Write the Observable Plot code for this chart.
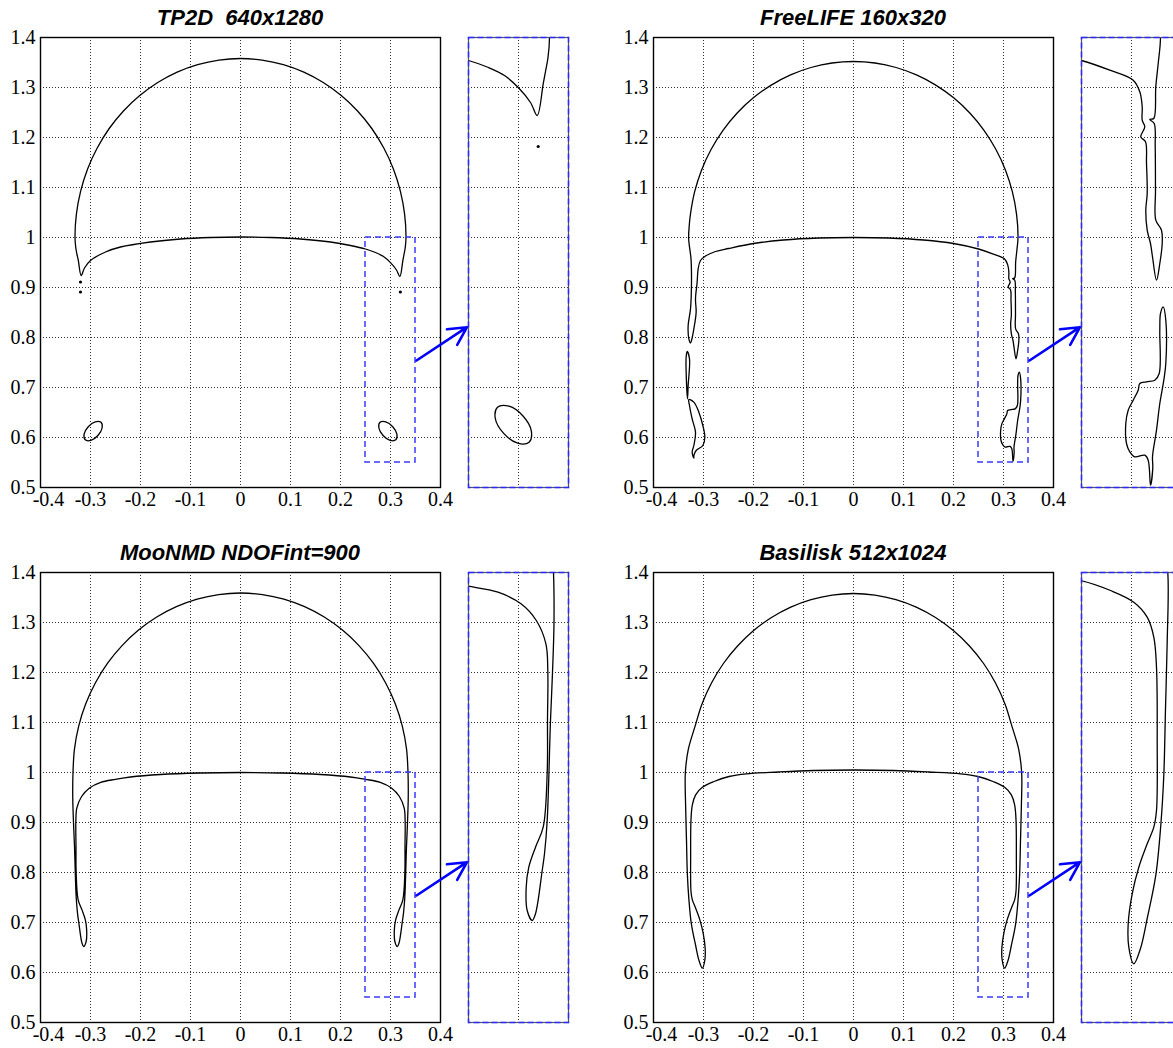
<!DOCTYPE html>
<html>
<head>
<meta charset="utf-8">
<script src="https://cdn.jsdelivr.net/npm/d3@7"></script>
<script src="https://cdn.jsdelivr.net/npm/@observablehq/plot@0.6"></script>
<style>
  html, body { margin: 0; padding: 0; background: #fff; }
  #root { position: relative; width: 1173px; height: 1048px; overflow: hidden; background: #fff; }
  .ttl { position: absolute; width: 400px; text-align: center; white-space: pre;
         font-family: "Liberation Sans", Arial, sans-serif; font-weight: bold; font-style: italic;
         font-size: 22px; line-height: 22px; color: #000; }
  .box { position: absolute; }
  #root svg text { font-family: "Liberation Serif", "Times New Roman", serif !important;
                   font-size: 20px !important; fill: #000; }
</style>
</head>
<body>
<div id="root"></div>
<script>
// ---------- ticks, labels ----------
const titles = ["TP2D  640x1280", "FreeLIFE 160x320", "MooNMD NDOFint=900", "Basilisk 512x1024"];
const xTicks = [-0.4, -0.3, -0.2, -0.1, 0, 0.1, 0.2, 0.3, 0.4];
const xTickLabels = ["-0.4", "-0.3", "-0.2", "-0.1", "0", "0.1", "0.2", "0.3", "0.4"];
const yTicks = [0.5, 0.6, 0.7, 0.8, 0.9, 1.0, 1.1, 1.2, 1.3, 1.4];
const yTickLabels = ["0.5", "0.6", "0.7", "0.8", "0.9", "1", "1.1", "1.2", "1.3", "1.4"];
const insetXTicks = [0.3];
const insetYTicks = [0.6, 0.65, 0.7, 0.75, 0.8, 0.85, 0.9, 0.95];
const zoomBox = [{x1: 0.25, x2: 0.35, y1: 0.55, y2: 1.0}];
const arrowLink = [{x1: 0.352, y1: 0.754, x2: 0.453, y2: 0.8206}];

// ---------- TP2D 640x1280 ----------
const tp2dBubble = [
  [0,1.358],[0.0432,1.3549],[0.0857,1.3458],[0.1267,1.3308],[0.1655,1.31],[0.2015,1.284],[0.2341,1.2531],
  [0.2626,1.218],[0.2866,1.179],[0.3058,1.137],[0.3197,1.0927],[0.3282,1.0467],[0.331,1.0],
  [0.3295,0.98],[0.327,0.966],[0.3247,0.9537],[0.3187,0.922],
  [0.312,0.935],[0.3,0.9497],[0.286,0.962],[0.27,0.970],[0.25,0.977],[0.22,0.984],[0.18,0.991],
  [0.12,0.997],[0.06,1.0],[0,1.001],
  [-0.06,1.0],[-0.12,0.997],[-0.18,0.991],[-0.24,0.981],[-0.27,0.971],[-0.3,0.954],[-0.312,0.939],[-0.3187,0.924],
  [-0.3245,0.955],[-0.327,0.966],[-0.3295,0.98],
  [-0.331,1.0],[-0.3282,1.0467],[-0.3197,1.0927],[-0.3058,1.137],[-0.2866,1.179],[-0.2626,1.218],
  [-0.2341,1.2531],[-0.2015,1.284],[-0.1655,1.31],[-0.1267,1.3308],[-0.0857,1.3458],[-0.0432,1.3549]
];
const tp2dDropRight = [
  [0.2790,0.6303],[0.2905,0.6313],[0.3045,0.6215],[0.3128,0.6066],
  [0.3106,0.5953],[0.2992,0.5943],[0.2852,0.6041],[0.2768,0.6190]
];
const tp2dDropLeft = [
  [-0.2790,0.6303],[-0.2905,0.6313],[-0.3045,0.6215],[-0.3128,0.6066],
  [-0.3106,0.5953],[-0.2992,0.5943],[-0.2852,0.6041],[-0.2768,0.6190]
];
const tp2dDots = [[-0.32,0.911],[-0.32,0.891],[0.3197,0.891]];

// ---------- FreeLIFE 160x320 ----------
const freelifeBubble = [
  [0,1.352],[0.0429,1.349],[0.0852,1.34],[0.1259,1.3252],[0.1645,1.3048],[0.2003,1.2793],[0.2326,1.2489],
  [0.261,1.2143],[0.2849,1.176],[0.304,1.1347],[0.3178,1.0911],[0.3262,1.0459],[0.329,1.0],
  [0.3267,0.974],[0.3243,0.951],[0.3223,0.919],[0.3183,0.918],[0.3227,0.914],[0.3237,0.891],
  [0.324,0.847],[0.3243,0.8173],[0.33,0.8073],[0.3307,0.794],[0.3283,0.774],[0.325,0.7573],
  [0.321,0.7807],[0.319,0.794],[0.3157,0.8073],[0.3143,0.8273],[0.3157,0.844],[0.315,0.874],
  [0.314,0.8957],[0.3093,0.9007],[0.3133,0.9107],[0.3107,0.9173],[0.3107,0.9307],[0.3083,0.9457],
  [0.3017,0.9573],[0.2783,0.9673],[0.25,0.977],[0.2,0.988],[0.14,0.995],[0.07,0.999],[0,1.0],
  [-0.07,0.999],[-0.14,0.995],[-0.2,0.988],[-0.25,0.978],[-0.276,0.972],[-0.296,0.963],[-0.306,0.954],
  [-0.3107,0.9373],[-0.3127,0.9107],[-0.316,0.8773],[-0.3147,0.8507],[-0.3193,0.8173],[-0.324,0.794],
  [-0.326,0.789],
  [-0.3293,0.7973],[-0.3307,0.824],[-0.326,0.8573],[-0.324,0.9107],[-0.325,0.9573],[-0.3297,0.9973],
  [-0.3285,1.024],[-0.3262,1.0459],[-0.3178,1.0911],[-0.304,1.1347],[-0.2849,1.176],[-0.261,1.2143],
  [-0.2326,1.2489],[-0.2003,1.2793],[-0.1645,1.3048],[-0.1259,1.3252],[-0.0852,1.34],[-0.0429,1.349]
];
const freelifeSliverLeft = [
  [-0.3327,0.772],[-0.328,0.7573],[-0.3307,0.704],[-0.332,0.6773],[-0.3347,0.7307],[-0.3347,0.7607]
];
const freelifeBlobLeft = [
  [-0.3293,0.676],[-0.3193,0.6707],[-0.3093,0.6507],[-0.3013,0.624],[-0.2973,0.6007],[-0.3013,0.584],
  [-0.3147,0.574],[-0.3193,0.564],[-0.3193,0.5587],[-0.3227,0.5707],[-0.3193,0.584],[-0.316,0.6107],
  [-0.3227,0.6373],[-0.328,0.664]
];
const freelifeBlobRight = [
  [0.3317,0.7307],[0.3343,0.7173],[0.3343,0.674],[0.3323,0.6573],[0.3283,0.634],[0.325,0.6073],
  [0.321,0.5807],[0.3213,0.57],[0.319,0.5523],[0.3167,0.5773],[0.3133,0.5823],[0.3033,0.5807],
  [0.2983,0.5857],[0.295,0.594],[0.2943,0.614],[0.2967,0.6273],[0.3017,0.6373],[0.3067,0.6473],
  [0.3083,0.654],[0.315,0.6557],[0.3233,0.6573],[0.3277,0.664],[0.3283,0.7073],[0.329,0.724]
];

// ---------- MooNMD NDOFint=900 ----------
const moonmdBubble = [
  [0,1.359],[0.0437,1.3559],[0.0867,1.3468],[0.1282,1.3317],[0.1675,1.3109],[0.2039,1.2848],[0.2369,1.2538],
  [0.2658,1.2186],[0.2901,1.1795],[0.3095,1.1374],[0.3236,1.0929],[0.3321,1.0468],[0.335,1.0],
  [0.3355,0.95],[0.334,0.9],[0.332,0.852],[0.3287,0.752],[0.326,0.7187],[0.3237,0.702],[0.317,0.6587],[0.3137,0.652],
  [0.3087,0.662],[0.3077,0.6853],[0.3103,0.7053],[0.317,0.7253],[0.3247,0.7453],[0.3287,0.8],
  [0.329,0.852],[0.3293,0.902],[0.3274,0.9287],[0.3178,0.952],[0.3025,0.9687],[0.2795,0.9803],
  [0.2497,0.9863],[0.22,0.991],[0.16,0.996],[0.08,0.999],[0,1.0],
  [-0.08,0.999],[-0.16,0.996],[-0.22,0.991],[-0.2497,0.9863],[-0.2795,0.9803],[-0.3025,0.9687],
  [-0.3178,0.952],[-0.3274,0.9287],[-0.3293,0.902],[-0.329,0.852],[-0.3287,0.8],[-0.3247,0.7453],
  [-0.317,0.7253],[-0.3103,0.7053],[-0.3077,0.6853],[-0.3087,0.662],[-0.3137,0.652],
  [-0.317,0.6587],[-0.3237,0.702],[-0.326,0.7187],[-0.3287,0.752],[-0.332,0.852],[-0.334,0.9],
  [-0.3355,0.95],[-0.335,1.0],[-0.3321,1.0468],[-0.3236,1.0929],[-0.3095,1.1374],[-0.2901,1.1795],
  [-0.2658,1.2186],[-0.2369,1.2538],[-0.2039,1.2848],[-0.1675,1.3109],[-0.1282,1.3317],[-0.0867,1.3468],
  [-0.0437,1.3559]
];

// ---------- Basilisk 512x1024 ----------
const basiliskBubble = [
  [0,1.358],[0.0428,1.3549],[0.0849,1.3458],[0.1255,1.3308],[0.164,1.31],[0.1997,1.284],[0.2319,1.2531],
  [0.2602,1.218],[0.284,1.179],[0.303,1.137],[0.3168,1.0927],[0.3303,1.0467],[0.3363,1.0],[0.3357,0.9307],
  [0.334,0.864],[0.3323,0.7973],[0.3293,0.7473],[0.3243,0.6973],[0.3157,0.654],[0.309,0.624],[0.3023,0.6087],
  [0.2973,0.6253],[0.2967,0.6487],[0.3007,0.6787],[0.3073,0.7053],[0.3157,0.7287],[0.3223,0.7453],
  [0.325,0.762],[0.3257,0.832],[0.325,0.9053],[0.3223,0.9353],[0.3157,0.9553],[0.3023,0.9703],
  [0.279,0.982],[0.249,0.992],[0.214,0.9973],[0.15,1.001],[0.08,1.004],[0,1.005],
  [-0.08,1.004],[-0.15,1.001],[-0.214,0.9973],[-0.249,0.992],[-0.279,0.982],[-0.3023,0.9703],
  [-0.3157,0.9553],[-0.3223,0.9353],[-0.325,0.9053],[-0.3257,0.832],[-0.325,0.762],[-0.3223,0.7453],
  [-0.3157,0.7287],[-0.3073,0.7053],[-0.3007,0.6787],[-0.2967,0.6487],[-0.2973,0.6253],[-0.3023,0.6087],
  [-0.309,0.624],[-0.3157,0.654],[-0.3243,0.6973],[-0.3293,0.7473],[-0.3323,0.7973],[-0.334,0.864],
  [-0.3357,0.9307],[-0.3363,1.0],[-0.3303,1.0467],[-0.3168,1.0927],[-0.303,1.137],[-0.284,1.179],
  [-0.2602,1.218],[-0.2319,1.2531],[-0.1997,1.284],[-0.164,1.31],[-0.1255,1.3308],[-0.0849,1.3458],
  [-0.0428,1.3549]
];

// ---------- panels ----------
const panels = [
  {title: titles[0], ox: 0,   oy: 0,   curves: [tp2dBubble, tp2dDropLeft, tp2dDropRight], dots: tp2dDots},
  {title: titles[1], ox: 613, oy: 0,   curves: [freelifeBubble, freelifeSliverLeft, freelifeBlobLeft, freelifeBlobRight], dots: []},
  {title: titles[2], ox: 0,   oy: 535, curves: [moonmdBubble], dots: []},
  {title: titles[3], ox: 613, oy: 535, curves: [basiliskBubble], dots: []}
];

const root = document.getElementById("root");
const fmt = (ticks, labels) => v => {
  const i = ticks.findIndex(t => Math.abs(t - v) < 1e-9);
  return i >= 0 ? labels[i] : "";
};
const gridStyle = {stroke: "#000", strokeOpacity: 0.8, strokeWidth: 1, strokeDasharray: "1,2"};
const serif = "Liberation Serif";

function shapeMarks(p, clip) {
  return [
    ...p.curves.map(c => Plot.line(c, {x: d => d[0], y: d => d[1], curve: "catmull-rom-closed",
                                        stroke: "#000", strokeWidth: 1.3, clip})),
    Plot.dot(p.dots, {x: d => d[0], y: d => d[1], r: 1.6, fill: "#000", stroke: "none", clip})
  ];
}

const xFmt = fmt(xTicks, xTickLabels);
for (const p of panels) {
  const t = document.createElement("div");
  t.className = "ttl";
  t.style.left = (p.ox + 40) + "px";
  t.style.top = (p.oy + 7) + "px";
  t.textContent = p.title;
  root.appendChild(t);

  const main = Plot.plot({
    width: 470, height: 495,
    marginLeft: 40, marginRight: 30, marginTop: 10, marginBottom: 35,
    style: {background: "transparent", overflow: "visible", color: "#000", fontFamily: serif, fontSize: "20px"},
    x: {domain: [-0.4, 0.4], label: null},
    y: {domain: [0.5, 1.4], label: null},
    marks: [
      Plot.gridX(xTicks, gridStyle),
      Plot.gridY(yTicks, gridStyle),
      ...shapeMarks(p, false),
      Plot.rect(zoomBox, {x1: "x1", x2: "x2", y1: "y1", y2: "y2", fill: "none",
                          stroke: "#3a3aff", strokeWidth: 1.5, strokeDasharray: "6,4"}),
      Plot.frame({stroke: "#000", strokeWidth: 1.4}),
      Plot.axisX(xTicks.slice(1), {tickSize: 0, tickPadding: 4, tickFormat: xFmt, label: null,
                                   fontFamily: serif, fontSize: 20}),
      Plot.axisX(xTicks.slice(0, 1), {tickSize: 0, tickPadding: 4, tickFormat: xFmt, dx: 8, label: null,
                                      fontFamily: serif, fontSize: 20}),
      Plot.axisY(yTicks, {tickSize: 0, tickPadding: 5, tickFormat: fmt(yTicks, yTickLabels), label: null,
                          fontFamily: serif, fontSize: 20}),
      Plot.arrow(arrowLink, {x1: "x1", y1: "y1", x2: "x2", y2: "y2", stroke: "#0000ff",
                             strokeWidth: 2.6, headLength: 15, headAngle: 55})
    ]
  });
  const mb = document.createElement("div");
  mb.className = "box";
  mb.style.left = p.ox + "px";
  mb.style.top = (p.oy + 27) + "px";
  mb.style.width = "470px";
  mb.appendChild(main);
  root.appendChild(mb);

  const inset = Plot.plot({
    width: 104, height: 454,
    marginLeft: 2, marginRight: 2, marginTop: 2, marginBottom: 2,
    style: {background: "transparent", overflow: "visible"},
    x: {domain: [0.25, 0.35], axis: null},
    y: {domain: [0.55, 1.0], axis: null},
    marks: [
      Plot.gridX(insetXTicks, gridStyle),
      Plot.gridY(insetYTicks, gridStyle),
      ...shapeMarks(p, true),
      Plot.frame({stroke: "#555", strokeWidth: 1.2}),
      Plot.frame({stroke: "#2a2aff", strokeWidth: 1.5, strokeDasharray: "6,3"})
    ]
  });
  const ib = document.createElement("div");
  ib.className = "box";
  ib.style.left = (p.ox + 466) + "px";
  ib.style.top = (p.oy + 35) + "px";
  ib.style.width = "104px";
  ib.appendChild(inset);
  root.appendChild(ib);
}
</script>
</body>
</html>
